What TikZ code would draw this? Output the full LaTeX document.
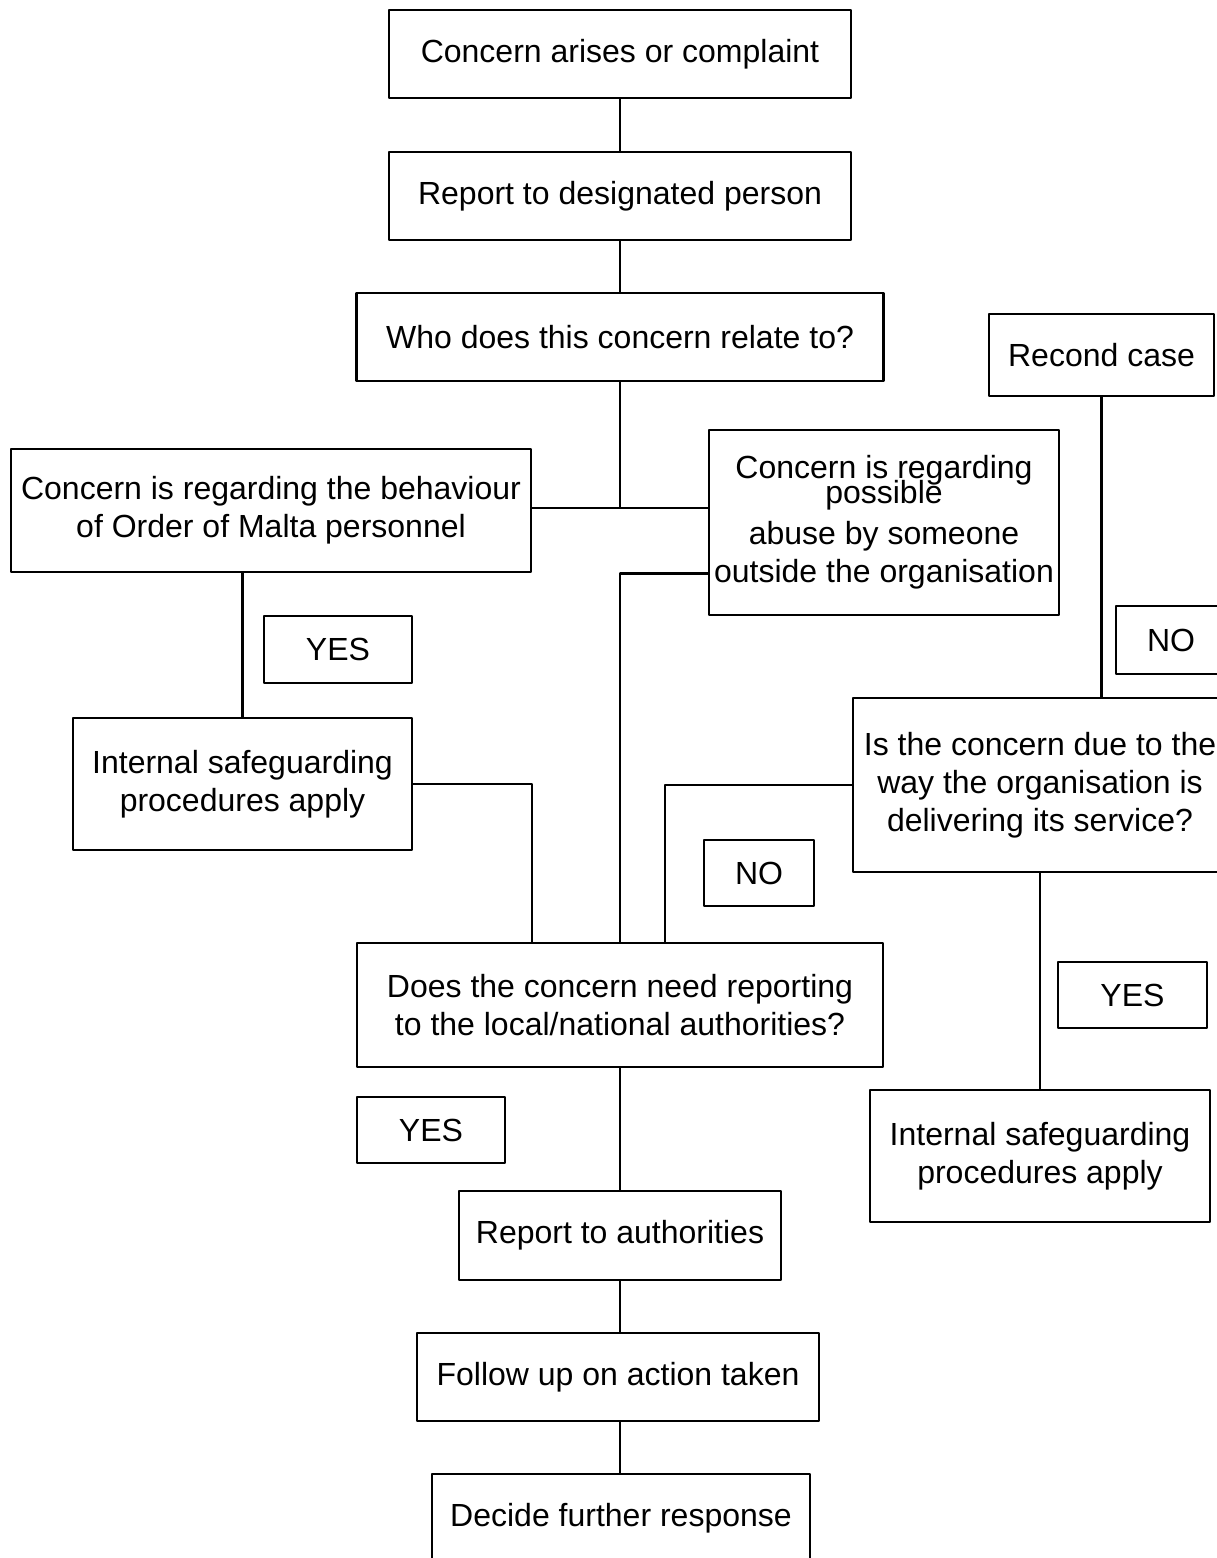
\documentclass[tikz,border=0pt]{standalone}
\usepackage{fontspec}
\setmainfont{Liberation Sans}
\begin{document}
\begin{tikzpicture}[x=1pt,y=-1pt,line width=2.8pt,line join=round,font=\fontsize{32}{38}\selectfont,
	box/.style={draw,align=center,inner sep=0pt},
	tag/.style={box,minimum width=148pt,minimum height=67pt}]
		\path[use as bounding box] (0,0) rectangle (1217,1558);
		\clip (0,0) rectangle (1217,1558);
		% main column
		\node[box,minimum width=462pt,minimum height=88pt] (start) at (620,54) {Concern arises or complaint};
		\node[box,minimum width=462pt,minimum height=88pt] (designated) at (620,196) {Report to designated person};
		\node[box,minimum width=527pt,minimum height=88pt] (relate) at (620,337) {Who does this concern relate to?};
		\node[box,minimum width=520pt,minimum height=123pt] (staff) at (271,510.5) {Concern is regarding the behaviour\\ of Order of Malta personnel};
		\node[box,minimum width=350pt,minimum height=185pt] (abuse) at (884,522.5) {Concern is regarding\\[-13pt]possible\\[3pt] abuse by someone\\outside the organisation};
		\node[box,minimum width=339pt,minimum height=132pt] (intL) at (242.5,784) {Internal safeguarding\\procedures apply};
		\node[box,minimum width=526pt,minimum height=124pt] (need) at (620,1005) {Does the concern need reporting\\to the local/national authorities?};
		\node[box,minimum width=322pt,minimum height=89pt] (authorities) at (620,1235.5) {Report to authorities};
		\node[box,minimum width=402pt,minimum height=88pt] (followup) at (618,1377) {Follow up on action taken};
		\node[box,minimum width=378pt,minimum height=88pt] (decide) at (621,1518) {Decide further response};
		% right branch
		\node[box,minimum width=225pt,minimum height=82pt] (recond) at (1101.5,355) {Recond case};
		\node[box,minimum width=374pt,minimum height=174pt] (service) at (1040,785) {Is the concern due to the\\way the organisation is\\delivering its service?};
		\node[box,minimum width=340pt,minimum height=132pt] (intR) at (1040,1156) {Internal safeguarding\\procedures apply};
		% answers
		\node[tag] (yesL) at (338,649.5) {YES};
		\node[tag,minimum width=110pt,minimum height=68pt] (noR) at (1171,640) {NO};
		\node[tag,minimum width=110pt,minimum height=66pt] (noM) at (759,873) {NO};
		\node[tag,minimum width=149pt,minimum height=66pt] (yesR) at (1132.5,995) {YES};
		\node[tag,minimum height=66pt] (yesB) at (431,1130) {YES};
		% connectors
		\coordinate (hub) at (620,508);
		\draw (start) -- (designated);
		\draw (designated) -- (relate);
		\draw (relate.south) -- (hub);
		\draw (staff.east |- hub) -- (abuse.west |- hub);
		\draw (abuse.west |- staff.south) -| (need.north);
		\draw (staff.south -| intL.north) -- (intL.north);
		\draw (intL.east) -| ([xshift=-88pt]need.north);
		\draw (service.west) -| ([xshift=45pt]need.north);
		\draw (recond.south) -- (recond.south |- service.north);
		\draw (service.south -| intR.north) -- (intR.north);
		\draw (need) -- (authorities);
		\draw (authorities.south) -- (authorities.south |- followup.north);
		\draw (followup.south -| authorities.south) -- (decide.north -| authorities.south);
\end{tikzpicture}
\end{document}
